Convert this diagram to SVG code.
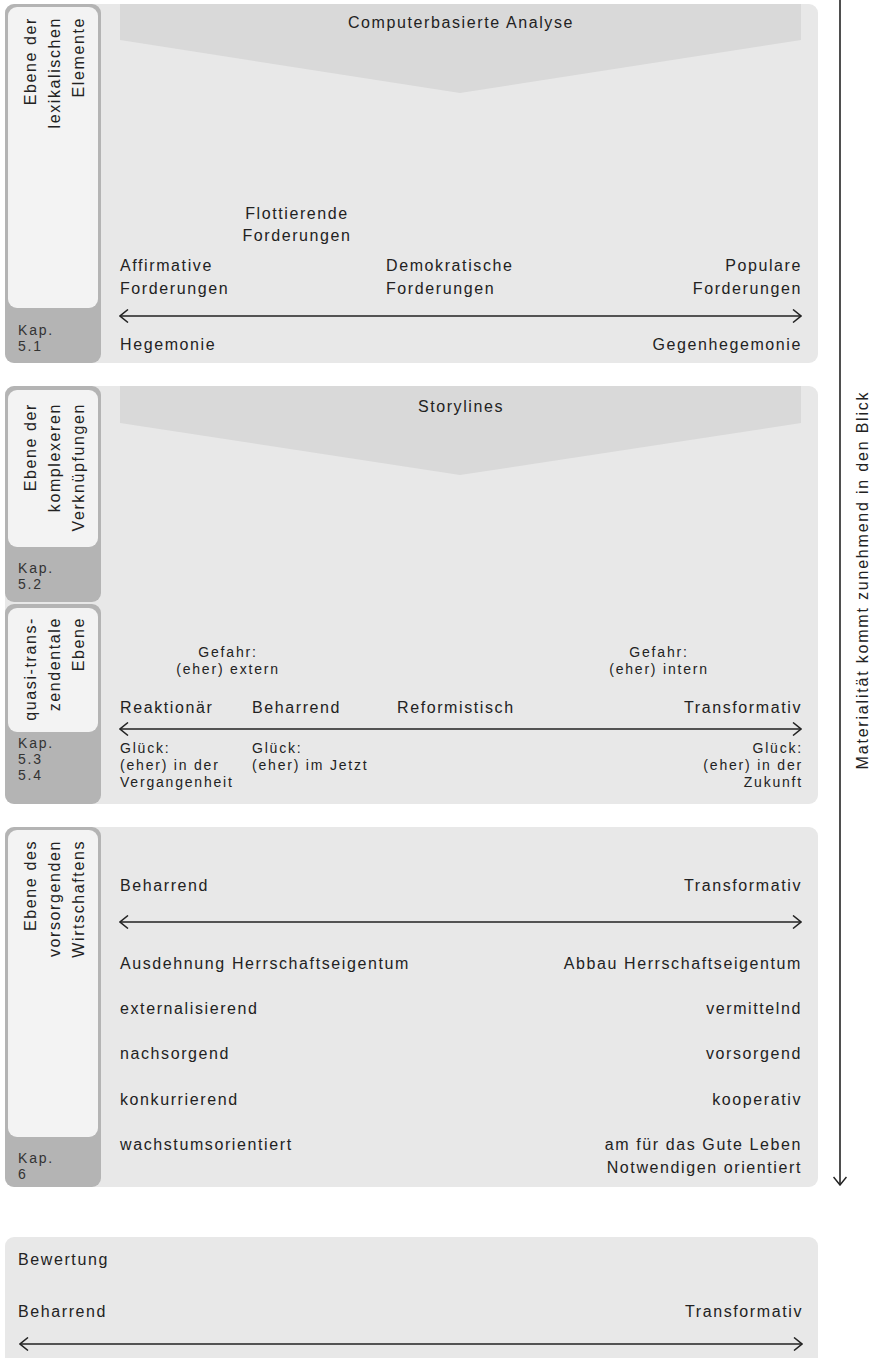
<svg xmlns="http://www.w3.org/2000/svg" width="879" height="1358" viewBox="0 0 879 1358">
<defs>
<style>
.panel{fill:#e8e8e8}
.chev{fill:#d9d9d9}
.tab{fill:#b4b4b4}
.inner{fill:#f3f3f3}
.t{font-family:"Liberation Sans",Arial,sans-serif;font-size:16px;letter-spacing:1.6px;fill:#222}
.s{font-family:"Liberation Sans",Arial,sans-serif;font-size:14px;letter-spacing:1.8px;fill:#222}
.k{font-family:"Liberation Sans",Arial,sans-serif;font-size:14px;letter-spacing:1.8px;fill:#333}
.e{text-anchor:end}
.m{text-anchor:middle}
.ax{stroke:#222;stroke-width:1.6;fill:none}
</style>
<marker id="ah" viewBox="0 0 10 14" refX="9" refY="7" markerWidth="10" markerHeight="14" markerUnits="userSpaceOnUse" orient="auto-start-reverse">
<path d="M1,0.5 L9,7 L1,13.5" fill="none" stroke="#222" stroke-width="1.5"/>
</marker>
</defs>
<rect width="879" height="1358" fill="#ffffff"/>

<g id="panel-lexikalisch">
<rect class="panel" x="5" y="4" width="813" height="359" rx="9"/>
<polygon class="chev" points="120,4 801,4 801,40 460,93 120,40"/>
<text class="t m" x="461" y="28">Computerbasierte Analyse</text>
<rect class="tab" x="5" y="4" width="96" height="359" rx="9"/>
<rect class="inner" x="8" y="7" width="90" height="301" rx="9"/>
<text class="t e" transform="translate(36,17) rotate(-90)">Ebene der</text>
<text class="t e" transform="translate(60,17) rotate(-90)">lexikalischen</text>
<text class="t e" transform="translate(84,17) rotate(-90)">Elemente</text>
<text class="k" x="18" y="335">Kap.</text>
<text class="k" x="18" y="351">5.1</text>
<text class="t m" x="297" y="219">Flottierende</text>
<text class="t m" x="297" y="241">Forderungen</text>
<text class="t" x="120" y="271">Affirmative</text>
<text class="t" x="120" y="294">Forderungen</text>
<text class="t" x="386" y="271">Demokratische</text>
<text class="t" x="386" y="294">Forderungen</text>
<text class="t e" x="802" y="271">Populare</text>
<text class="t e" x="802" y="294">Forderungen</text>
<text class="t" x="120" y="350">Hegemonie</text>
<text class="t e" x="802" y="350">Gegenhegemonie</text>
</g>

<g id="panel-storylines">
<rect class="panel" x="5" y="386" width="813" height="418" rx="9"/>
<polygon class="chev" points="120,386 801,386 801,423 460,475 120,423"/>
<text class="t m" x="461" y="412">Storylines</text>
<rect class="tab" x="5" y="386" width="96" height="216" rx="9"/>
<rect class="inner" x="8" y="390" width="90" height="157" rx="9"/>
<text class="t e" transform="translate(36,403) rotate(-90)">Ebene der</text>
<text class="t e" transform="translate(60,403) rotate(-90)">komplexeren</text>
<text class="t e" transform="translate(84,403) rotate(-90)">Verknüpfungen</text>
<text class="k" x="18" y="573">Kap.</text>
<text class="k" x="18" y="589">5.2</text>
</g>

<g id="panel-quasi">
<rect class="tab" x="5" y="604" width="96" height="200" rx="9"/>
<rect class="inner" x="8" y="608" width="90" height="124" rx="9"/>
<text class="t e" transform="translate(36,617) rotate(-90)">quasi-trans-</text>
<text class="t e" transform="translate(60,617) rotate(-90)">zendentale</text>
<text class="t e" transform="translate(84,617) rotate(-90)">Ebene</text>
<text class="k" x="18" y="748">Kap.</text>
<text class="k" x="18" y="764">5.3</text>
<text class="k" x="18" y="780">5.4</text>
<text class="s m" x="228" y="657">Gefahr:</text>
<text class="s m" x="228" y="674">(eher) extern</text>
<text class="s m" x="659" y="657">Gefahr:</text>
<text class="s m" x="659" y="674">(eher) intern</text>
<text class="t" x="120" y="713">Reaktionär</text>
<text class="t" x="252" y="713">Beharrend</text>
<text class="t" x="397" y="713">Reformistisch</text>
<text class="t e" x="802" y="713">Transformativ</text>
<text class="s" x="120" y="753">Glück:</text>
<text class="s" x="120" y="770">(eher) in der</text>
<text class="s" x="120" y="787">Vergangenheit</text>
<text class="s" x="252" y="753">Glück:</text>
<text class="s" x="252" y="770">(eher) im Jetzt</text>
<text class="s e" x="803" y="753">Glück:</text>
<text class="s e" x="803" y="770">(eher) in der</text>
<text class="s e" x="803" y="787">Zukunft</text>
</g>

<g id="panel-wirtschaften">
<rect class="panel" x="5" y="827" width="813" height="360" rx="9"/>
<rect class="tab" x="5" y="827" width="96" height="360" rx="9"/>
<rect class="inner" x="8" y="830" width="90" height="307" rx="9"/>
<text class="t e" transform="translate(36,840) rotate(-90)">Ebene des</text>
<text class="t e" transform="translate(60,840) rotate(-90)">vorsorgenden</text>
<text class="t e" transform="translate(84,840) rotate(-90)">Wirtschaftens</text>
<text class="k" x="18" y="1163">Kap.</text>
<text class="k" x="18" y="1179">6</text>
<text class="t" x="120" y="891">Beharrend</text>
<text class="t e" x="802" y="891">Transformativ</text>
<text class="t" x="120" y="969">Ausdehnung Herrschaftseigentum</text>
<text class="t e" x="802" y="969">Abbau Herrschaftseigentum</text>
<text class="t" x="120" y="1014">externalisierend</text>
<text class="t e" x="802" y="1014">vermittelnd</text>
<text class="t" x="120" y="1059">nachsorgend</text>
<text class="t e" x="802" y="1059">vorsorgend</text>
<text class="t" x="120" y="1105">konkurrierend</text>
<text class="t e" x="802" y="1105">kooperativ</text>
<text class="t" x="120" y="1150">wachstumsorientiert</text>
<text class="t e" x="802" y="1150">am für das Gute Leben</text>
<text class="t e" x="802" y="1173">Notwendigen orientiert</text>
</g>

<g id="panel-bewertung">
<rect class="panel" x="5" y="1237" width="813" height="140" rx="9"/>
<text class="t" x="18" y="1265">Bewertung</text>
<text class="t" x="18" y="1317">Beharrend</text>
<text class="t e" x="803" y="1317">Transformativ</text>
</g>

<g id="materialitaet">
<text class="t m" transform="translate(868,580) rotate(-90)" style="letter-spacing:1.8px">Materialität kommt zunehmend in den Blick</text>
</g>

<g id="connectors">
<line class="ax" x1="120" y1="316" x2="801" y2="316" marker-start="url(#ah)" marker-end="url(#ah)"/>
<line class="ax" x1="120" y1="729" x2="801" y2="729" marker-start="url(#ah)" marker-end="url(#ah)"/>
<line class="ax" x1="120" y1="922" x2="801" y2="922" marker-start="url(#ah)" marker-end="url(#ah)"/>
<line class="ax" x1="20" y1="1344" x2="802" y2="1344" marker-start="url(#ah)" marker-end="url(#ah)"/>
<line class="ax" x1="840" y1="0" x2="840" y2="1185" marker-end="url(#ah)"/>
</g>
</svg>
